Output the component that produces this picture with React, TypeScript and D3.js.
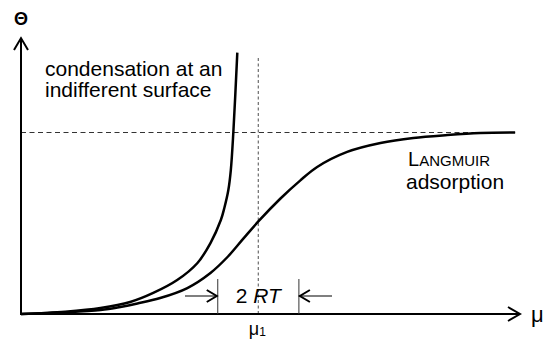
import React from 'react';
import * as d3 from 'd3';

// chemical potential in units of RT, measured from mu_1
const muLangmuir = [-5.85, -4.76, -3.89, -3.4, -2.98, -2.42, -1.75, -1.18, -0.76, -0.37, 0, 0.54, 1.03, 1.45, 2.19, 3.01, 3.82, 4.66, 5.47, 6.33];
const thetaLangmuir = [0, 0.009, 0.022, 0.039, 0.058, 0.088, 0.143, 0.226, 0.314, 0.415, 0.51, 0.635, 0.735, 0.81, 0.893, 0.942, 0.97, 0.986, 0.997, 1.0];

const muCondensation = [-5.85, -4.76, -3.89, -3.16, -2.59, -2.0, -1.5, -1.18, -0.924, -0.838, -0.739, -0.678, -0.616, -0.518];
const thetaCondensation = [0, 0.013, 0.033, 0.066, 0.116, 0.187, 0.281, 0.391, 0.518, 0.584, 0.683, 0.793, 1.0, 1.44];

const muRange = [-5.85, 6.45];
const thetaTop = 1.52;
const mu1 = 0;
const halfWidth = 1; // +-RT around mu_1
const guideTop = 1.41;

const W = 546;
const H = 339;
const FONT = '"Liberation Sans", Arial, sans-serif';

export default function App() {
  const x = d3.scaleLinear().domain(muRange).range([21, 520]);
  const y = d3.scaleLinear().domain([0, 1]).range([314, 132.5]);

  const line = d3.line<[number, number]>()
    .x(d => x(d[0]))
    .y(d => y(d[1]))
    .curve(d3.curveCatmullRom.alpha(0.5));

  const langmuir = line(muLangmuir.map((m, i) => [m, thetaLangmuir[i]]));
  const condensation = line(muCondensation.map((m, i) => [m, thetaCondensation[i]]));

  const x0 = x(muRange[0]);
  const xEnd = x(muRange[1]);
  const y0 = y(0);
  const yTop = y(thetaTop);
  const xm = x(mu1);
  const xl = x(mu1 - halfWidth);
  const xr = x(mu1 + halfWidth);
  const yArr = 296;

  return (
    <svg width={W} height={H} style={{ position: 'absolute', left: 0, top: 0, background: '#fff' }}>
      {/* guides */}
      <line x1={x0} x2={x(muLangmuir[muLangmuir.length - 1])} y1={y(1)} y2={y(1)}
        stroke="#333" strokeWidth={1} strokeDasharray="5,3.5" />
      <line x1={xm} x2={xm} y1={y(guideTop)} y2={y0}
        stroke="#777" strokeWidth={1.3} strokeDasharray="3,2.5" />

      {/* axes */}
      <line x1={x0} x2={x0} y1={y0 + 1} y2={yTop} stroke="#000" strokeWidth={2} />
      <path d={`M${x0 - 7},${yTop + 12}L${x0},${yTop}L${x0 + 7},${yTop + 12}`} fill="none" stroke="#000" strokeWidth={2} />
      <line x1={x0 - 1} x2={xEnd} y1={y0} y2={y0} stroke="#000" strokeWidth={2} />
      <path d={`M${xEnd - 12},${y0 - 7}L${xEnd},${y0}L${xEnd - 12},${y0 + 7}`} fill="none" stroke="#000" strokeWidth={2} />

      {/* curves */}
      <path d={condensation ?? ''} fill="none" stroke="#000" strokeWidth={2.5} />
      <path d={langmuir ?? ''} fill="none" stroke="#000" strokeWidth={2.5} />

      {/* 2RT marker */}
      <line x1={xl} x2={xl} y1={279} y2={y0} stroke="#333" strokeWidth={1} />
      <line x1={xr} x2={xr} y1={279} y2={y0} stroke="#333" strokeWidth={1} />
      <line x1={185} x2={xl} y1={yArr} y2={yArr} stroke="#555" strokeWidth={1.3} />
      <path d={`M${xl - 11},${yArr - 6}L${xl - 1},${yArr}L${xl - 11},${yArr + 6}`} fill="none" stroke="#000" strokeWidth={2} />
      <line x1={xr} x2={332} y1={yArr} y2={yArr} stroke="#555" strokeWidth={1.3} />
      <path d={`M${xr + 11},${yArr - 6}L${xr + 1},${yArr}L${xr + 11},${yArr + 6}`} fill="none" stroke="#000" strokeWidth={2} />

      <g fontFamily={FONT} fill="#000">
        <text x={x0} y={25} fontSize={18} textAnchor="middle" fontWeight="bold">Θ</text>
        <text x={531} y={322} fontSize={22}>μ</text>
        <text x={xm - 1} y={335} fontSize={18} textAnchor="middle">μ<tspan fontSize={12} dy={1}>1</tspan></text>
        <text x={(xl + xr) / 2} y={303} fontSize={21} textAnchor="middle">2 <tspan fontStyle="italic">RT</tspan></text>
        <text x={45} y={76} fontSize={21}>condensation at an</text>
        <text x={45} y={97} fontSize={21}>indifferent surface</text>
        <text x={408} y={166} fontSize={20}>L<tspan fontSize={15}>ANGMUIR</tspan></text>
        <text x={406} y={189} fontSize={21}>adsorption</text>
      </g>
    </svg>
  );
}
